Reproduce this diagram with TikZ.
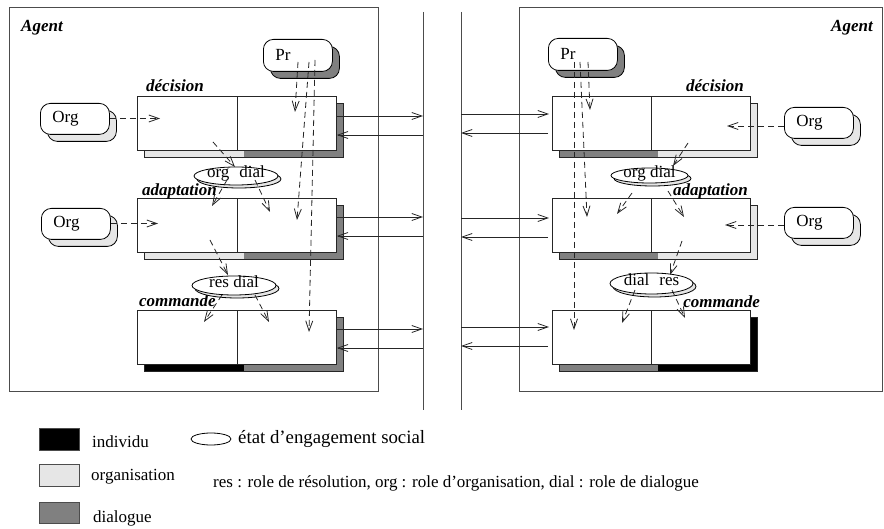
\documentclass[tikz,border=0pt]{standalone}
\usepackage{fontspec}
\setmainfont{Liberation Serif}
\usetikzlibrary{arrows.meta,shapes.geometric,shadows}
\definecolor{dialc}{HTML}{808080}
\definecolor{orgc}{HTML}{E6E6E6}
\begin{document}
\begin{tikzpicture}[x=1pt,y=-1pt,
  every node/.style={font=\fontsize{17pt}{20pt}\selectfont},
  ln/.style={line width=0.8pt, draw=black!85},
  frame/.style={line width=0.9pt, draw=black!70},
  blk/.style={draw=black!85, line width=0.8pt, fill=white, inner sep=0pt, minimum height=54pt, anchor=north west},
  lab/.style={inner sep=0pt, font=\fontsize{17pt}{20pt}\selectfont\bfseries\itshape},
  txt/.style={inner sep=0pt},
  rbox/.style={draw=black, line width=0.8pt, fill=white, rounded corners=10pt, inner xsep=12pt, inner ysep=0pt, text width=45pt, align=left, minimum height=31pt, anchor=north west},
  orgbox/.style={rbox, general shadow={shadow xshift=7pt, shadow yshift=-7pt, fill=orgc, draw=black, line width=0.8pt}},
  prbox/.style={rbox, minimum height=32pt, general shadow={shadow xshift=7pt, shadow yshift=-7pt, fill=dialc, draw=black, line width=0.8pt}},
  sel/.style={ellipse, draw=black, line width=0.8pt, fill=white, inner sep=0pt, text height=4pt, text depth=0pt, general shadow={shadow xshift=3pt, shadow yshift=-3pt, fill=orgc, draw=black, line width=0.8pt}},
  arr/.style={line width=0.8pt, draw=black!85, -{Straight Barb[length=10pt,width=7pt,line width=0.8pt]}},
  darr/.style={arr, dash pattern=on 6pt off 4pt}
]
\useasboundingbox (0,0) rectangle (884,529);

% agent frames and channel lines
\draw[frame] (9.5,7) rectangle (378,391);
\draw[frame] (519,7.5) rectangle (882.5,391);
\draw[frame] (423,12) -- (423,410);
\draw[frame] (461,12) -- (461,410);

\node[lab, anchor=base west] (agL) at (21,32) {Agent};
\node[lab, anchor=base east] (agR) at (873,32) {Agent};

% ---------- left agent: block shadows ----------
\fill[orgc] (144,103) rectangle (244,157); \fill[dialc] (244,103) rectangle (343,157);
\draw[ln] (144,103) rectangle (343,157);
\fill[orgc] (144,205) rectangle (244,259); \fill[dialc] (244,205) rectangle (343,259);
\draw[ln] (144,205) rectangle (343,259);
\fill[black] (144,317) rectangle (244,371); \fill[dialc] (244,317) rectangle (343,371);
\draw[ln] (144,317) rectangle (343,371);

\node[blk, minimum width=100pt] (dL1) at (137,96) {};
\node[blk, minimum width=99pt]  (dL2) at (237,96) {};
\node[blk, minimum width=100pt] (aL1) at (137,198) {};
\node[blk, minimum width=99pt]  (aL2) at (237,198) {};
\node[blk, minimum width=100pt] (cL1) at (137,310) {};
\node[blk, minimum width=99pt]  (cL2) at (237,310) {};

\node[lab, anchor=base west] (ldec) at (146,92) {décision};
\node[lab, anchor=base west] (lada) at (142,196) {adaptation};
\node[lab, anchor=base west] (lcom) at (139,307) {commande};

% ---------- right agent: block shadows ----------
\fill[dialc] (559,103) rectangle (658,157); \fill[orgc] (658,103) rectangle (757,157);
\draw[ln] (559,103) rectangle (757,157);
\fill[dialc] (559,205) rectangle (658,259); \fill[orgc] (658,205) rectangle (757,259);
\draw[ln] (559,205) rectangle (757,259);
\fill[dialc] (559,317) rectangle (658,371); \fill[black] (658,317) rectangle (757,371);
\draw[ln] (559,317) rectangle (757,371);

\node[blk, minimum width=99pt] (dR1) at (552,96) {};
\node[blk, minimum width=99pt] (dR2) at (651,96) {};
\node[blk, minimum width=99pt] (aR1) at (552,198) {};
\node[blk, minimum width=99pt] (aR2) at (651,198) {};
\node[blk, minimum width=99pt] (cR1) at (552,310) {};
\node[blk, minimum width=99pt] (cR2) at (651,310) {};

\node[lab, anchor=base east] (rdec) at (744,92) {décision};
\node[lab, anchor=base east] (rada) at (748,196) {adaptation};
\node[lab, anchor=base east] (rcom) at (760,308) {commande};

% ---------- Pr and Org boxes ----------
\node[prbox] (prL) at (263,39) {Pr};
\node[prbox] (prR) at (548,38) {Pr};
\node[orgbox] (orgL1) at (40,103) {Org};
\node[orgbox] (orgL2) at (41,208) {Org};
\node[orgbox] (orgR1) at (784,107) {Org};
\node[orgbox] (orgR2) at (784,207) {Org};

% ---------- social engagement ellipses ----------
\node[sel, minimum width=84pt, minimum height=18pt] (eL1) at (236,176) {org\hspace{10pt}dial};
\node[sel, minimum width=84pt, minimum height=19pt] (eL2) at (234,285.5) {res dial};
\node[sel, minimum width=77pt, minimum height=15pt] (eR1) at (649.5,175.5) {org dial};
\node[sel, minimum width=83pt, minimum height=21pt] (eR2) at (651.5,283.5) {dial\hspace{10pt}res};

% ---------- horizontal exchange arrows ----------
\coordinate (hL1) at (423,116); \coordinate (hL2) at (423,135);
\coordinate (hL3) at (423,217); \coordinate (hL4) at (423,236);
\coordinate (hL5) at (423,329); \coordinate (hL6) at (423,348);
\draw[arr] (dL2.east |- hL1) -- (hL1);
\draw[arr] (hL2) -- (dL2.east |- hL2);
\draw[arr] (aL2.east |- hL3) -- (hL3);
\draw[arr] (hL4) -- (aL2.east |- hL4);
\draw[arr] (cL2.east |- hL5) -- (hL5);
\draw[arr] (hL6) -- (cL2.east |- hL6);

\coordinate (hR1) at (461,114); \coordinate (hR2) at (461,133);
\coordinate (hR3) at (461,218); \coordinate (hR4) at (461,237);
\coordinate (hR5) at (461,327); \coordinate (hR6) at (461,346);
\draw[arr, shorten >=3pt] (hR1) -- (dR1.west |- hR1);
\draw[arr, shorten <=4pt] (dR1.west |- hR2) -- (hR2);
\draw[arr, shorten >=3pt] (hR3) -- (aR1.west |- hR3);
\draw[arr, shorten <=4pt] (aR1.west |- hR4) -- (hR4);
\draw[arr, shorten >=3pt] (hR5) -- (cR1.west |- hR5);
\draw[arr, shorten <=4pt] (cR1.west |- hR6) -- (hR6);

% ---------- Org dashed arrows ----------
\coordinate (oL1) at (160,118.5); \coordinate (oL2) at (158,223.5);
\coordinate (oR1) at (727,126);   \coordinate (oR2) at (725,225);
\draw[darr] (orgL1.east |- oL1) -- (oL1);
\draw[darr] (orgL2.east |- oL2) -- (oL2);
\draw[darr] (orgR1.west |- oR1) -- (oR1);
\draw[darr] (orgR2.west |- oR2) -- (oR2);

% ---------- Pr dashed arrows ----------
\coordinate (pLa) at (298,62); \coordinate (tLa) at (295,112);
\coordinate (pLb) at (309,62); \coordinate (tLb) at (297,220);
\coordinate (pLc) at (315,60); \coordinate (tLc) at (309,332);
\draw[darr] (pLa) -- (tLa);
\draw[darr] (pLb) -- (tLb);
\draw[darr] (pLc) -- (tLc);
\coordinate (pRa) at (588,62); \coordinate (tRa) at (590,110);
\coordinate (pRb) at (580,62); \coordinate (tRb) at (587,217);
\coordinate (pRc) at (574,62); \coordinate (tRc) at (574,330);
\draw[darr] (pRa) -- (tRa);
\draw[darr] (pRb) -- (tRb);
\draw[darr] (pRc) -- (tRc);

% ---------- block / ellipse dashed arrows ----------
\foreach \n/\a/\b/\c/\d in {
  1/213/142/235/167, 2/227/180/212/206, 3/255/180/270/212,
  4/210/240/228/275, 5/222/295/204/322, 6/255/295/269/322,
  7/688/143/673/166, 8/632/193/617/214, 9/668/191/684/217,
  10/682/241/670/275, 11/635/290/622/323, 12/672/290/685/318}{
  \coordinate (s\n) at (\a,\b);
  \coordinate (t\n) at (\c,\d);
  \draw[darr] (s\n) -- (t\n);
}

% ---------- legend ----------
\node[draw=black!70, line width=0.8pt, fill=black, minimum width=40pt, minimum height=22pt, inner sep=0pt, anchor=north west] (lgI) at (39,428) {};
\node[draw=black!70, line width=0.8pt, fill=orgc, minimum width=40pt, minimum height=22pt, inner sep=0pt, anchor=north west] (lgO) at (39,464) {};
\node[draw=black!70, line width=0.8pt, fill=dialc, minimum width=40pt, minimum height=21pt, inner sep=0pt, anchor=north west] (lgD) at (39,502) {};
\node[txt, anchor=west] (tI) at (92,442) {individu};
\node[txt, anchor=west] (tO) at (91,477) {organisation};
\node[txt, anchor=west] (tD) at (93,518) {dialogue};
\node[ellipse, draw=black, line width=0.8pt, minimum width=40pt, minimum height=12pt, inner sep=0pt] (lgE) at (211,439) {};
\node[txt, anchor=west, font=\fontsize{18.8pt}{22pt}\selectfont] (tE) at (238,439) {état d’engagement social};
\node[txt, anchor=west] (tR) at (213,483) {res : role de résolution, org : role d’organisation, dial : role de dialogue};
\end{tikzpicture}
\end{document}
